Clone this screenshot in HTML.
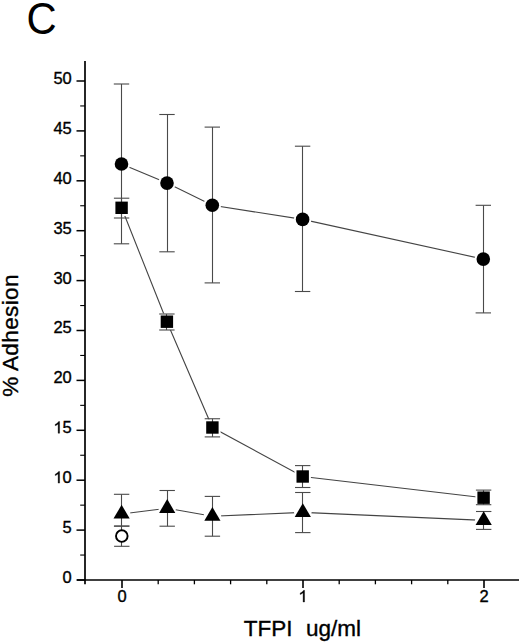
<!DOCTYPE html>
<html><head><meta charset="utf-8"><style>
html,body{margin:0;padding:0;background:#fff;}
body{width:520px;height:643px;overflow:hidden;}
svg{display:block;}
text{font-family:"Liberation Sans",sans-serif;fill:#000;}
.tl{font-size:16.5px;stroke:#000;stroke-width:0.35px;}
.one{fill:#000;stroke:#000;stroke-width:0.35px;vector-effect:non-scaling-stroke;}
.ax{font-size:22.5px;stroke:#000;stroke-width:0.35px;}
.big{font-size:44px;}
</style></head><body>
<svg width="520" height="643" viewBox="0 0 520 643">
<rect width="520" height="643" fill="#fff"/>
<line x1="85.0" y1="61" x2="85.0" y2="584.3" stroke="#000" stroke-width="1.7"/>
<line x1="77" y1="580.0" x2="519" y2="580.0" stroke="#000" stroke-width="1.6"/>
<line x1="76.5" y1="580.00" x2="85.0" y2="580.00" stroke="#000" stroke-width="1.5"/>
<text x="62.623" y="582.900" class="tl">0</text>
<line x1="76.5" y1="530.10" x2="85.0" y2="530.10" stroke="#000" stroke-width="1.5"/>
<text x="62.623" y="533.000" class="tl">5</text>
<line x1="76.5" y1="480.20" x2="85.0" y2="480.20" stroke="#000" stroke-width="1.5"/>
<path d="M763 0H583V1147Q518 1085 412.5 1023Q307 961 223 930V1104Q374 1175 487 1276Q600 1377 647 1450H763Z" transform="translate(53.447,483.100) scale(0.008057,-0.008057)" class="one"/>
<text x="62.623" y="483.100" class="tl">0</text>
<line x1="76.5" y1="430.30" x2="85.0" y2="430.30" stroke="#000" stroke-width="1.5"/>
<path d="M763 0H583V1147Q518 1085 412.5 1023Q307 961 223 930V1104Q374 1175 487 1276Q600 1377 647 1450H763Z" transform="translate(53.447,433.200) scale(0.008057,-0.008057)" class="one"/>
<text x="62.623" y="433.200" class="tl">5</text>
<line x1="76.5" y1="380.40" x2="85.0" y2="380.40" stroke="#000" stroke-width="1.5"/>
<text x="53.447" y="383.300" class="tl">2</text>
<text x="62.623" y="383.300" class="tl">0</text>
<line x1="76.5" y1="330.50" x2="85.0" y2="330.50" stroke="#000" stroke-width="1.5"/>
<text x="53.447" y="333.400" class="tl">2</text>
<text x="62.623" y="333.400" class="tl">5</text>
<line x1="76.5" y1="280.60" x2="85.0" y2="280.60" stroke="#000" stroke-width="1.5"/>
<text x="53.447" y="283.500" class="tl">3</text>
<text x="62.623" y="283.500" class="tl">0</text>
<line x1="76.5" y1="230.70" x2="85.0" y2="230.70" stroke="#000" stroke-width="1.5"/>
<text x="53.447" y="233.600" class="tl">3</text>
<text x="62.623" y="233.600" class="tl">5</text>
<line x1="76.5" y1="180.80" x2="85.0" y2="180.80" stroke="#000" stroke-width="1.5"/>
<text x="53.447" y="183.700" class="tl">4</text>
<text x="62.623" y="183.700" class="tl">0</text>
<line x1="76.5" y1="130.90" x2="85.0" y2="130.90" stroke="#000" stroke-width="1.5"/>
<text x="53.447" y="133.800" class="tl">4</text>
<text x="62.623" y="133.800" class="tl">5</text>
<line x1="76.5" y1="81.00" x2="85.0" y2="81.00" stroke="#000" stroke-width="1.5"/>
<text x="53.447" y="83.900" class="tl">5</text>
<text x="62.623" y="83.900" class="tl">0</text>
<line x1="80.2" y1="555.05" x2="85.0" y2="555.05" stroke="#000" stroke-width="1.1"/>
<line x1="80.2" y1="505.15" x2="85.0" y2="505.15" stroke="#000" stroke-width="1.1"/>
<line x1="80.2" y1="455.25" x2="85.0" y2="455.25" stroke="#000" stroke-width="1.1"/>
<line x1="80.2" y1="405.35" x2="85.0" y2="405.35" stroke="#000" stroke-width="1.1"/>
<line x1="80.2" y1="355.45" x2="85.0" y2="355.45" stroke="#000" stroke-width="1.1"/>
<line x1="80.2" y1="305.55" x2="85.0" y2="305.55" stroke="#000" stroke-width="1.1"/>
<line x1="80.2" y1="255.65" x2="85.0" y2="255.65" stroke="#000" stroke-width="1.1"/>
<line x1="80.2" y1="205.75" x2="85.0" y2="205.75" stroke="#000" stroke-width="1.1"/>
<line x1="80.2" y1="155.85" x2="85.0" y2="155.85" stroke="#000" stroke-width="1.1"/>
<line x1="80.2" y1="105.95" x2="85.0" y2="105.95" stroke="#000" stroke-width="1.1"/>
<line x1="122.00" y1="580.0" x2="122.00" y2="588" stroke="#000" stroke-width="1.6"/>
<text x="117.412" y="602.000" class="tl">0</text>
<line x1="303.00" y1="580.0" x2="303.00" y2="588" stroke="#000" stroke-width="1.6"/>
<path d="M763 0H583V1147Q518 1085 412.5 1023Q307 961 223 930V1104Q374 1175 487 1276Q600 1377 647 1450H763Z" transform="translate(298.412,602.000) scale(0.008057,-0.008057)" class="one"/>
<line x1="484.00" y1="580.0" x2="484.00" y2="588" stroke="#000" stroke-width="1.6"/>
<text x="479.412" y="602.000" class="tl">2</text>
<line x1="158.20" y1="580.0" x2="158.20" y2="584.3" stroke="#000" stroke-width="1.3"/>
<line x1="194.40" y1="580.0" x2="194.40" y2="584.3" stroke="#000" stroke-width="1.3"/>
<line x1="230.60" y1="580.0" x2="230.60" y2="584.3" stroke="#000" stroke-width="1.3"/>
<line x1="266.80" y1="580.0" x2="266.80" y2="584.3" stroke="#000" stroke-width="1.3"/>
<line x1="339.20" y1="580.0" x2="339.20" y2="584.3" stroke="#000" stroke-width="1.3"/>
<line x1="375.40" y1="580.0" x2="375.40" y2="584.3" stroke="#000" stroke-width="1.3"/>
<line x1="411.60" y1="580.0" x2="411.60" y2="584.3" stroke="#000" stroke-width="1.3"/>
<line x1="447.80" y1="580.0" x2="447.80" y2="584.3" stroke="#000" stroke-width="1.3"/>
<polyline points="121.5,164.0 167.0,183.1 212.3,205.3 302.6,219.4 483.3,259.1" stroke="#444" stroke-width="1.1" fill="none"/>
<polyline points="121.6,207.8 166.9,321.7 212.4,427.5 302.7,476.5 483.6,497.7" stroke="#444" stroke-width="1.1" fill="none"/>
<polyline points="121.6,514.0 167.2,508.3 212.4,516.2 302.8,512.4 483.7,520.4" stroke="#444" stroke-width="1.1" fill="none"/>
<circle cx="121.5" cy="164.0" r="8.8" fill="#fff"/>
<circle cx="167.0" cy="183.1" r="8.8" fill="#fff"/>
<circle cx="212.3" cy="205.3" r="8.8" fill="#fff"/>
<circle cx="302.6" cy="219.4" r="8.8" fill="#fff"/>
<circle cx="483.3" cy="259.1" r="8.8" fill="#fff"/>
<rect x="113.40" y="199.60" width="16.4" height="16.4" fill="#fff"/>
<rect x="158.70" y="313.50" width="16.4" height="16.4" fill="#fff"/>
<rect x="204.20" y="419.30" width="16.4" height="16.4" fill="#fff"/>
<rect x="294.50" y="468.30" width="16.4" height="16.4" fill="#fff"/>
<rect x="475.40" y="489.50" width="16.4" height="16.4" fill="#fff"/>
<circle cx="121.6" cy="514.0" r="8.8" fill="#fff"/>
<circle cx="167.2" cy="508.3" r="8.8" fill="#fff"/>
<circle cx="212.4" cy="516.2" r="8.8" fill="#fff"/>
<circle cx="302.8" cy="512.4" r="8.8" fill="#fff"/>
<circle cx="483.7" cy="520.4" r="8.8" fill="#fff"/>
<line x1="121.5" y1="84.0" x2="121.5" y2="243.8" stroke="#4a4a4a" stroke-width="1.1"/>
<line x1="113.8" y1="84.0" x2="129.2" y2="84.0" stroke="#4a4a4a" stroke-width="1.1"/>
<line x1="113.8" y1="243.8" x2="129.2" y2="243.8" stroke="#4a4a4a" stroke-width="1.1"/>
<line x1="167.5" y1="114.5" x2="167.5" y2="251.8" stroke="#4a4a4a" stroke-width="1.1"/>
<line x1="159.3" y1="114.5" x2="174.7" y2="114.5" stroke="#4a4a4a" stroke-width="1.1"/>
<line x1="159.3" y1="251.8" x2="174.7" y2="251.8" stroke="#4a4a4a" stroke-width="1.1"/>
<line x1="212.5" y1="127.1" x2="212.5" y2="282.9" stroke="#4a4a4a" stroke-width="1.1"/>
<line x1="204.60000000000002" y1="127.1" x2="220.0" y2="127.1" stroke="#4a4a4a" stroke-width="1.1"/>
<line x1="204.60000000000002" y1="282.9" x2="220.0" y2="282.9" stroke="#4a4a4a" stroke-width="1.1"/>
<line x1="302.5" y1="146.2" x2="302.5" y2="291.5" stroke="#4a4a4a" stroke-width="1.1"/>
<line x1="294.90000000000003" y1="146.2" x2="310.3" y2="146.2" stroke="#4a4a4a" stroke-width="1.1"/>
<line x1="294.90000000000003" y1="291.5" x2="310.3" y2="291.5" stroke="#4a4a4a" stroke-width="1.1"/>
<line x1="483.5" y1="205.3" x2="483.5" y2="312.9" stroke="#4a4a4a" stroke-width="1.1"/>
<line x1="475.6" y1="205.3" x2="491.0" y2="205.3" stroke="#4a4a4a" stroke-width="1.1"/>
<line x1="475.6" y1="312.9" x2="491.0" y2="312.9" stroke="#4a4a4a" stroke-width="1.1"/>
<line x1="121.5" y1="198.2" x2="121.5" y2="218.0" stroke="#4a4a4a" stroke-width="1.1"/>
<line x1="113.89999999999999" y1="198.2" x2="129.29999999999998" y2="198.2" stroke="#4a4a4a" stroke-width="1.1"/>
<line x1="113.89999999999999" y1="218.0" x2="129.29999999999998" y2="218.0" stroke="#4a4a4a" stroke-width="1.1"/>
<line x1="166.5" y1="314.0" x2="166.5" y2="330.0" stroke="#4a4a4a" stroke-width="1.1"/>
<line x1="159.20000000000002" y1="314.0" x2="174.6" y2="314.0" stroke="#4a4a4a" stroke-width="1.1"/>
<line x1="159.20000000000002" y1="330.0" x2="174.6" y2="330.0" stroke="#4a4a4a" stroke-width="1.1"/>
<line x1="212.5" y1="418.75" x2="212.5" y2="436.9" stroke="#4a4a4a" stroke-width="1.1"/>
<line x1="204.70000000000002" y1="418.75" x2="220.1" y2="418.75" stroke="#4a4a4a" stroke-width="1.1"/>
<line x1="204.70000000000002" y1="436.9" x2="220.1" y2="436.9" stroke="#4a4a4a" stroke-width="1.1"/>
<line x1="302.5" y1="465.6" x2="302.5" y2="487.5" stroke="#4a4a4a" stroke-width="1.1"/>
<line x1="295.0" y1="465.6" x2="310.4" y2="465.6" stroke="#4a4a4a" stroke-width="1.1"/>
<line x1="295.0" y1="487.5" x2="310.4" y2="487.5" stroke="#4a4a4a" stroke-width="1.1"/>
<line x1="483.5" y1="490.1" x2="483.5" y2="504.7" stroke="#4a4a4a" stroke-width="1.1"/>
<line x1="475.90000000000003" y1="490.1" x2="491.3" y2="490.1" stroke="#4a4a4a" stroke-width="1.1"/>
<line x1="475.90000000000003" y1="504.7" x2="491.3" y2="504.7" stroke="#4a4a4a" stroke-width="1.1"/>
<line x1="121.5" y1="494.3" x2="121.5" y2="526.2" stroke="#4a4a4a" stroke-width="1.1"/>
<line x1="113.89999999999999" y1="494.3" x2="129.29999999999998" y2="494.3" stroke="#4a4a4a" stroke-width="1.1"/>
<line x1="113.89999999999999" y1="526.2" x2="129.29999999999998" y2="526.2" stroke="#4a4a4a" stroke-width="1.1"/>
<line x1="167.5" y1="490.5" x2="167.5" y2="526.2" stroke="#4a4a4a" stroke-width="1.1"/>
<line x1="159.5" y1="490.5" x2="174.89999999999998" y2="490.5" stroke="#4a4a4a" stroke-width="1.1"/>
<line x1="159.5" y1="526.2" x2="174.89999999999998" y2="526.2" stroke="#4a4a4a" stroke-width="1.1"/>
<line x1="212.5" y1="496.4" x2="212.5" y2="536.2" stroke="#4a4a4a" stroke-width="1.1"/>
<line x1="204.70000000000002" y1="496.4" x2="220.1" y2="496.4" stroke="#4a4a4a" stroke-width="1.1"/>
<line x1="204.70000000000002" y1="536.2" x2="220.1" y2="536.2" stroke="#4a4a4a" stroke-width="1.1"/>
<line x1="302.5" y1="492.5" x2="302.5" y2="532.6" stroke="#4a4a4a" stroke-width="1.1"/>
<line x1="295.1" y1="492.5" x2="310.5" y2="492.5" stroke="#4a4a4a" stroke-width="1.1"/>
<line x1="295.1" y1="532.6" x2="310.5" y2="532.6" stroke="#4a4a4a" stroke-width="1.1"/>
<line x1="483.5" y1="511.5" x2="483.5" y2="529.4" stroke="#4a4a4a" stroke-width="1.1"/>
<line x1="476.0" y1="511.5" x2="491.4" y2="511.5" stroke="#4a4a4a" stroke-width="1.1"/>
<line x1="476.0" y1="529.4" x2="491.4" y2="529.4" stroke="#4a4a4a" stroke-width="1.1"/>
<line x1="121.5" y1="526.0" x2="121.5" y2="546.3" stroke="#4a4a4a" stroke-width="1.1"/>
<line x1="114.1" y1="526.0" x2="129.5" y2="526.0" stroke="#4a4a4a" stroke-width="1.1"/>
<line x1="114.1" y1="546.3" x2="129.5" y2="546.3" stroke="#4a4a4a" stroke-width="1.1"/>
<circle cx="121.5" cy="164.0" r="6.8" fill="#000"/>
<circle cx="167.0" cy="183.1" r="6.8" fill="#000"/>
<circle cx="212.3" cy="205.3" r="6.8" fill="#000"/>
<circle cx="302.6" cy="219.4" r="6.8" fill="#000"/>
<circle cx="483.3" cy="259.1" r="6.8" fill="#000"/>
<rect x="115.40" y="201.60" width="12.4" height="12.4" fill="#000"/>
<rect x="160.70" y="315.50" width="12.4" height="12.4" fill="#000"/>
<rect x="206.20" y="421.30" width="12.4" height="12.4" fill="#000"/>
<rect x="296.50" y="470.30" width="12.4" height="12.4" fill="#000"/>
<rect x="477.40" y="491.50" width="12.4" height="12.4" fill="#000"/>
<polygon points="121.60,504.80 129.70,518.60 113.50,518.60" fill="#000"/>
<polygon points="167.20,499.10 175.30,512.90 159.10,512.90" fill="#000"/>
<polygon points="212.40,507.00 220.50,520.80 204.30,520.80" fill="#000"/>
<polygon points="302.80,503.20 310.90,517.00 294.70,517.00" fill="#000"/>
<polygon points="483.70,511.20 491.80,525.00 475.60,525.00" fill="#000"/>
<circle cx="121.8" cy="536.1" r="5.8" fill="#fff" stroke="#000" stroke-width="1.9"/>
<text x="0" y="0" class="big" transform="translate(26.6,33.5) scale(0.95,1)">C</text>
<text x="243.8" y="636.3" class="ax">TFPI</text>
<text x="306" y="636.3" class="ax">ug/ml</text>
<text transform="translate(18.0,396.8) rotate(-90)" class="ax" letter-spacing="0.38">% Adhesion</text>
</svg>
</body></html>
